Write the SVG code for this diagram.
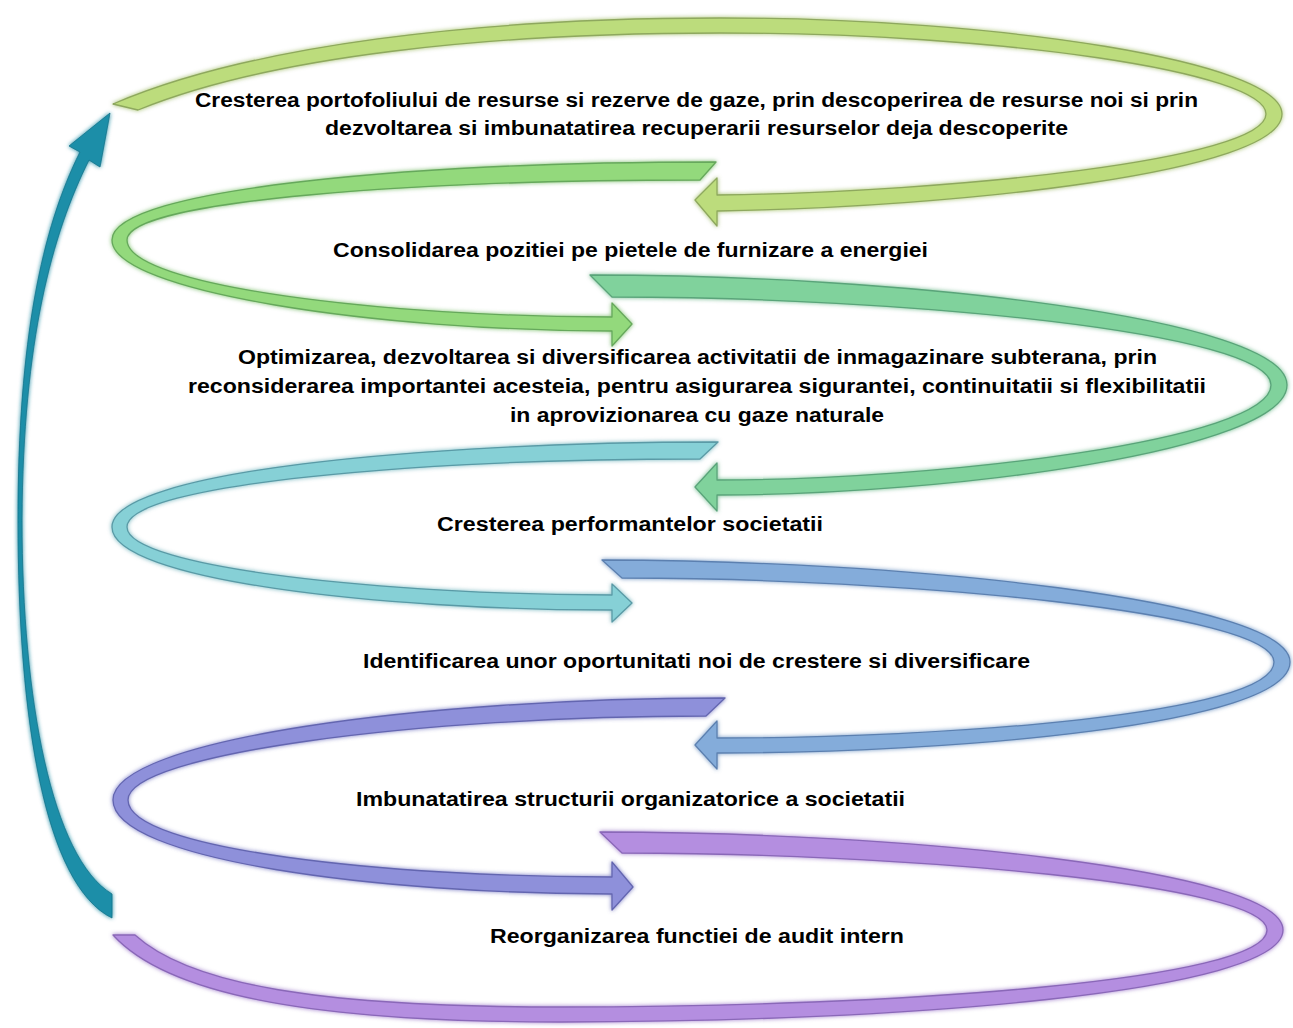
<svg xmlns="http://www.w3.org/2000/svg" width="1293" height="1028" viewBox="0 0 1293 1028">
  <defs>
    <filter id="glow" x="-5%" y="-5%" width="110%" height="110%">
      <feGaussianBlur in="SourceGraphic" stdDeviation="2.2" result="b"/>
      <feMerge><feMergeNode in="b"/><feMergeNode in="SourceGraphic"/></feMerge>
    </filter>
  </defs>
  <style>
    .lbl { font-family: "Liberation Sans Narrow", "Liberation Sans", Arial, sans-serif; font-weight: bold; font-size: 20px; fill: #000; }
    .band { stroke-width: 1.3; stroke-linejoin: round; filter: url(#glow); }
    .c1 { fill: #bcdc7c; stroke: #8ea85e; }
    .c2 { fill: #93d97c; stroke: #66a85c; }
    .c3 { fill: #80d29c; stroke: #5aa47a; }
    .c4 { fill: #86d0d6; stroke: #5a9aa6; }
    .c5 { fill: #84acda; stroke: #5c80b0; }
    .c6 { fill: #8e90da; stroke: #6466b0; }
    .c7 { fill: #b48ee0; stroke: #8a68b8; }
    .teal { fill: #1d8ea8; stroke: #15758c; stroke-width: 0.8; }
  </style>
  <rect width="1293" height="1028" fill="#ffffff"/>

  <g id="connectors">
    <!-- loop 1 -->
    <path class="band c1" d="M113,104 C250,45 480,18 720,18 C1000,18 1282,62 1282,114 C1282,172 960,207 717,211 L717,226 L695,200 L717,178 L717,195 C950,192 1266,160 1266,114 C1266,72 1000,33 720,33 C490,33 270,56 138,110 Z"/>
    <!-- loop 2 -->
    <path class="band c2" d="M716,162 C420,162 112,188 112,240 C112,292 380,331 612,331 L612,346 L632,324 L612,303 L612,317 C390,317 127,287 127,240 C127,200 420,180 700,180 Z"/>
    <!-- loop 3 -->
    <path class="band c3" d="M590,275 C900,275 1287,318 1287,385 C1287,450 950,495 717,495 L717,511 L695,487 L717,463 L717,480 C940,480 1271,440 1271,385 C1271,332 900,297 612,297 Z"/>
    <!-- loop 4 -->
    <path class="band c4" d="M718,442 C420,442 112,472 112,527 C112,580 380,610 612,610 L612,622 L632,603 L612,584 L612,595 C390,595 127,568 127,527 C127,484 420,459 700,459 Z"/>
    <!-- loop 5 -->
    <path class="band c5" d="M602,560 C900,560 1290,600 1290,662 C1290,725 950,753 717,753 L717,769 L695,745 L717,721 L717,738 C940,738 1274,715 1274,662 C1274,612 900,578 622,578 Z"/>
    <!-- loop 6 -->
    <path class="band c6" d="M725,698 C420,698 113,740 113,800 C113,860 380,894 612,894 L612,910 L633,887 L612,862 L612,877 C390,877 128,850 128,800 C128,754 420,716 706,716 Z"/>
    <!-- loop 7 -->
    <path class="band c7" d="M600,832 C900,832 1283,870 1283,930 C1283,992 900,1022 560,1022 C300,1022 165,992 113,935 L135,935 C190,985 320,1007 560,1007 C900,1007 1267,980 1267,930 C1267,884 900,853 622,853 Z"/>
    <!-- teal return arrow -->
    <path class="teal" filter="url(#glow)" d="M112,918 C45,885 18,720 18,520 C18,340 42,228 80,152 L69,146 L110,113 L100,167 L89,160 C52,234 23,340 22,520 C22,700 52,858 112,894 Z"/>
  </g>

  <g id="node-1">
    <text class="lbl" x="195" y="107" textLength="1003" lengthAdjust="spacingAndGlyphs">Cresterea portofoliului de resurse si rezerve de gaze, prin descoperirea de resurse noi si prin</text>
    <text class="lbl" x="325" y="135" textLength="743" lengthAdjust="spacingAndGlyphs">dezvoltarea si imbunatatirea recuperarii resurselor deja descoperite</text>
  </g>
  <g id="node-2">
    <text class="lbl" x="333" y="257" textLength="595" lengthAdjust="spacingAndGlyphs">Consolidarea pozitiei pe pietele de furnizare a energiei</text>
  </g>
  <g id="node-3">
    <text class="lbl" x="238" y="364" textLength="919" lengthAdjust="spacingAndGlyphs">Optimizarea, dezvoltarea si diversificarea activitatii de inmagazinare subterana, prin</text>
    <text class="lbl" x="188" y="393" textLength="1018" lengthAdjust="spacingAndGlyphs">reconsiderarea importantei acesteia, pentru asigurarea sigurantei, continuitatii si flexibilitatii</text>
    <text class="lbl" x="510" y="422" textLength="374" lengthAdjust="spacingAndGlyphs">in aprovizionarea cu gaze naturale</text>
  </g>
  <g id="node-4">
    <text class="lbl" x="437" y="531" textLength="386" lengthAdjust="spacingAndGlyphs">Cresterea performantelor societatii</text>
  </g>
  <g id="node-5">
    <text class="lbl" x="363" y="668" textLength="667" lengthAdjust="spacingAndGlyphs">Identificarea unor oportunitati noi de crestere si diversificare</text>
  </g>
  <g id="node-6">
    <text class="lbl" x="356" y="806" textLength="549" lengthAdjust="spacingAndGlyphs">Imbunatatirea structurii organizatorice a societatii</text>
  </g>
  <g id="node-7">
    <text class="lbl" x="490" y="943" textLength="414" lengthAdjust="spacingAndGlyphs">Reorganizarea functiei de audit intern</text>
  </g>
</svg>
